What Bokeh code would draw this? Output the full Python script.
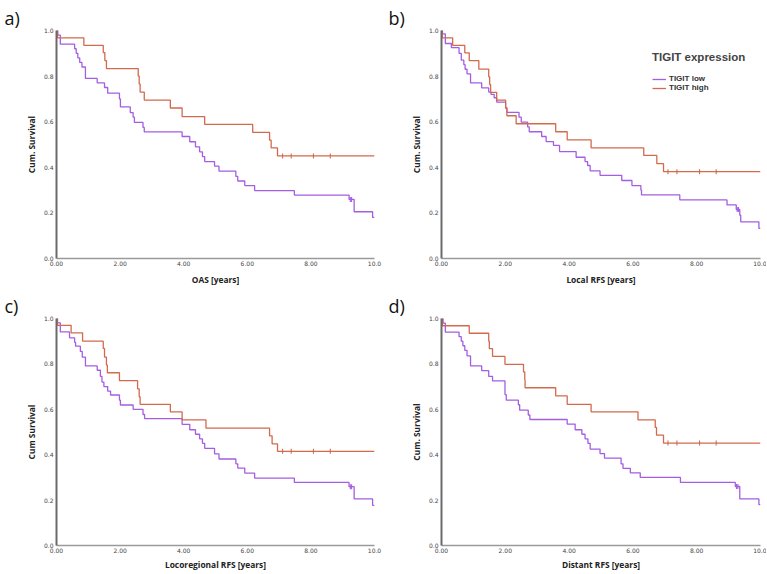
import numpy as np
from bokeh.plotting import figure
from bokeh.layouts import gridplot
from bokeh.models import Range1d, FixedTicker, Legend, LegendItem
from bokeh.embed import file_html
from bokeh.resources import INLINE

# ---------------- data ----------------
x_ticks = [0, 2, 4, 6, 8, 10]
x_tick_labels = ["0.00", "2.00", "4.00", "6.00", "8.00", "10.0"]
y_ticks = [0.0, 0.2, 0.4, 0.6, 0.8, 1.0]
y_tick_labels = ["0.0", "0.2", "0.4", "0.6", "0.8", "1.0"]
group_names = ["TIGIT low", "TIGIT high"]

# a) OAS
a_low_t = [0.04, 0.12, 0.57, 0.62, 0.67, 0.73, 0.80, 0.91, 1.28, 1.51, 1.61, 1.98,
           2.01, 2.32, 2.41, 2.45, 2.72, 2.76, 3.95, 4.19, 4.37, 4.50, 4.59, 4.66,
           4.97, 5.11, 5.64, 5.70, 5.92, 6.23, 7.48, 9.20, 9.36, 9.94]
a_low_s = [0.98, 0.94, 0.92, 0.90, 0.88, 0.86, 0.84, 0.79, 0.77, 0.75, 0.725, 0.70,
           0.665, 0.64, 0.62, 0.597, 0.575, 0.555, 0.535, 0.512, 0.49, 0.468, 0.447, 0.425,
           0.405, 0.383, 0.36, 0.34, 0.32, 0.298, 0.278, 0.259, 0.205, 0.18]
a_low_cens = [9.24, 9.28]
a_high_t = [0.03, 0.86, 1.47, 1.52, 1.57, 2.57, 2.60, 2.63, 2.76, 3.58, 3.95, 4.66,
            6.17, 6.70, 6.75, 6.95]
a_high_s = [0.968, 0.935, 0.903, 0.868, 0.833, 0.800, 0.765, 0.730, 0.695, 0.660, 0.622, 0.588,
            0.553, 0.519, 0.485, 0.450]
a_high_cens = [7.11, 7.38, 8.08, 8.61]

# b) Local RFS
b_low_t = [0.03, 0.12, 0.31, 0.55, 0.62, 0.70, 0.74, 0.80, 0.91, 1.26, 1.48, 1.55, 1.65,
           1.73, 2.01, 2.05, 2.43, 2.50, 2.70, 2.75, 3.14, 3.28, 3.51, 3.70, 4.22, 4.50,
           4.58, 4.66, 4.97, 5.65, 5.97, 6.25, 6.27, 7.47, 8.95, 9.24, 9.35, 9.38, 9.95]
b_low_s = [0.985, 0.943, 0.925, 0.90, 0.87, 0.85, 0.83, 0.81, 0.77, 0.748, 0.73, 0.72, 0.705,
           0.686, 0.66, 0.641, 0.62, 0.598, 0.577, 0.556, 0.535, 0.513, 0.496, 0.469, 0.444, 0.425,
           0.408, 0.384, 0.365, 0.342, 0.32, 0.30, 0.279, 0.257, 0.235, 0.215, 0.19, 0.161, 0.132]
b_low_cens = [9.27, 9.31]
b_high_t = [0.02, 0.35, 0.73, 0.87, 1.17, 1.48, 1.51, 1.54, 1.73, 2.01, 2.05, 2.34, 3.58,
            3.94, 4.69, 6.34, 6.75, 6.96]
b_high_s = [0.968, 0.935, 0.902, 0.868, 0.831, 0.797, 0.763, 0.729, 0.695, 0.66, 0.626, 0.591, 0.556,
            0.52, 0.485, 0.452, 0.416, 0.381]
b_high_cens = [7.10, 7.38, 8.09, 8.61]

# c) Locoregional RFS
c_low_t = [0.03, 0.12, 0.41, 0.57, 0.60, 0.75, 0.81, 0.91, 1.28, 1.38, 1.43, 1.49, 1.61,
           1.70, 1.98, 2.01, 2.41, 2.72, 2.77, 3.95, 4.19, 4.37, 4.50, 4.59, 4.66, 4.97,
           5.11, 5.64, 5.70, 5.92, 6.23, 7.48, 9.20, 9.36, 9.94]
c_low_s = [0.981, 0.941, 0.915, 0.895, 0.878, 0.855, 0.83, 0.791, 0.772, 0.745, 0.72, 0.70, 0.68,
           0.663, 0.64, 0.619, 0.60, 0.577, 0.559, 0.534, 0.51, 0.49, 0.47, 0.45, 0.428, 0.404,
           0.381, 0.36, 0.341, 0.319, 0.297, 0.278, 0.259, 0.205, 0.177]
c_low_cens = [9.24, 9.28]
c_high_t = [0.03, 0.46, 0.82, 1.47, 1.51, 1.57, 1.60, 1.98, 2.55, 2.60, 2.63, 3.58, 3.95,
            4.70, 6.70, 6.78, 6.95]
c_high_s = [0.97, 0.937, 0.90, 0.868, 0.83, 0.795, 0.761, 0.726, 0.69, 0.655, 0.622, 0.589, 0.553,
            0.517, 0.483, 0.448, 0.415]
c_high_cens = [7.11, 7.38, 8.08, 8.61]

# d) Distant RFS
d_low_t = [0.05, 0.12, 0.55, 0.62, 0.67, 0.73, 0.80, 0.91, 1.26, 1.48, 1.60, 1.99, 2.03,
           2.41, 2.45, 2.72, 2.77, 3.94, 4.19, 4.40, 4.50, 4.59, 4.66, 4.97, 5.11, 5.63,
           5.69, 5.92, 6.23, 7.49, 9.21, 9.35, 9.95]
d_low_s = [0.98, 0.94, 0.92, 0.90, 0.88, 0.86, 0.835, 0.791, 0.77, 0.745, 0.725, 0.665, 0.64,
           0.62, 0.596, 0.575, 0.555, 0.535, 0.51, 0.49, 0.47, 0.45, 0.425, 0.405, 0.385, 0.36,
           0.34, 0.32, 0.30, 0.278, 0.26, 0.205, 0.18]
d_low_cens = [9.25, 9.29]
d_high_t = [0.03, 0.87, 1.48, 1.50, 1.60, 1.99, 2.57, 2.61, 2.62, 3.58, 3.94, 4.69, 6.16,
            6.70, 6.74, 6.96]
d_high_s = [0.968, 0.935, 0.90, 0.867, 0.833, 0.798, 0.765, 0.73, 0.695, 0.659, 0.622, 0.589, 0.553,
            0.52, 0.486, 0.451]
d_high_cens = [7.10, 7.38, 8.09, 8.61]

# ---------------- styling ----------------
LOW_COLOR = "#a45ee2"
HIGH_COLOR = "#d26a4e"
X_MAX = 10.0


def km_xy(t, s):
    return [0.0] + list(t) + [X_MAX], [1.0] + list(s) + [s[-1]]


def surv_at(t, s, c):
    idx = np.searchsorted(np.array(t), np.array(c), side="right") - 1
    return [1.0 if i < 0 else s[i] for i in idx]


def make_panel(tag, xlabel, ylabel, low, high, width, height, borders, xstand, legend=False):
    bl, br, bt, bb = borders
    p = figure(width=width, height=height, output_backend="svg", toolbar_location=None,
               x_range=Range1d(0, X_MAX), y_range=Range1d(0, 1),
               min_border_left=bl, min_border_right=br, min_border_top=bt, min_border_bottom=bb,
               background_fill_color="white", border_fill_color="white")
    p.outline_line_color = None
    p.grid.visible = False

    # panel tag as the figure title, pulled to the figure's left edge
    p.title.text = tag
    p.title.align = "left"
    p.title.vertical_align = "middle"
    p.title.offset = -(bl - 4)
    p.title.text_font = "Open Sans"
    p.title.text_font_style = "normal"
    p.title.text_font_size = "18px"
    p.title.text_line_height = 0.75
    p.title.text_color = "#111111"
    p.title.standoff = 0

    rends = []
    for (t, s, c), col in ((low, LOW_COLOR), (high, HIGH_COLOR)):
        x, y = km_xy(t, s)
        r = p.step(x, y, mode="after", line_color=col, line_width=1.3)
        rends.append(r)
        p.scatter(c, surv_at(t, s, c), marker="dash", angle=np.pi / 2, size=5,
                  line_color=col, line_width=1.1)

    for ax in (p.xaxis[0], p.yaxis[0]):
        ax.major_tick_out = 0
        ax.major_tick_in = 0
        ax.minor_tick_line_color = None
        ax.major_label_text_font = "DejaVu Sans"
        ax.major_label_text_font_size = "6px"
        ax.major_label_text_color = "#444444"
        ax.axis_label_text_font = "Open Sans"
        ax.axis_label_text_font_style = "bold"
        ax.axis_label_text_font_size = "8.4px"
        ax.axis_label_text_color = "#222222"

    p.xaxis.ticker = FixedTicker(ticks=x_ticks)
    p.xaxis.major_label_overrides = dict(zip(x_ticks, x_tick_labels))
    p.xaxis.axis_label = xlabel
    p.xaxis.major_label_standoff = 2
    p.xaxis.axis_label_standoff = xstand
    p.xaxis.axis_line_color = "#9a9a9a"
    p.xaxis.axis_line_width = 1.5

    p.yaxis.ticker = FixedTicker(ticks=y_ticks)
    p.yaxis.major_label_overrides = dict(zip(y_ticks, y_tick_labels))
    p.yaxis.axis_label = ylabel
    p.yaxis.major_label_standoff = 3
    p.yaxis.axis_label_standoff = 4
    p.yaxis.axis_line_color = "#6a6a6a"
    p.yaxis.axis_line_width = 2

    if legend:
        lg = Legend(items=[LegendItem(label=group_names[0], renderers=[rends[0]]),
                           LegendItem(label=group_names[1], renderers=[rends[1]])],
                    location=(211, 166), title="TIGIT expression",
                    title_text_font="Liberation Sans", title_text_font_style="bold",
                    title_text_font_size="11.5px", title_standoff=11,
                    label_text_font="Liberation Sans", label_text_font_style="bold",
                    label_text_font_size="8px", label_text_color="#333333",
                    glyph_width=14, glyph_height=8, label_height=8, label_standoff=3,
                    spacing=0, padding=0, margin=0, border_line_color=None,
                    background_fill_alpha=0)
        p.add_layout(lg)
    return p


pa = make_panel("a)", "OAS [years]", "Cum. Survival",
                (a_low_t, a_low_s, a_low_cens), (a_high_t, a_high_s, a_high_cens),
                384, 292, (56, 10, 30, 34), 5)
pb = make_panel("b)", "Local RFS [years]", "Cum. Survival",
                (b_low_t, b_low_s, b_low_cens), (b_high_t, b_high_s, b_high_cens),
                382, 292, (57, 6, 30, 34), 5, legend=True)
pc = make_panel("c)", "Locoregional RFS [years]", "Cum Survival",
                (c_low_t, c_low_s, c_low_cens), (c_high_t, c_high_s, c_high_cens),
                384, 281, (56, 10, 25, 28), 3)
pd = make_panel("d)", "Distant RFS [years]", "Cum. Survival",
                (d_low_t, d_low_s, d_low_cens), (d_high_t, d_high_s, d_high_cens),
                382, 281, (57, 6, 25, 28), 3)

grid = gridplot([[pa, pb], [pc, pd]], toolbar_location=None)

open("out.html", "w").write(file_html(grid, INLINE))
